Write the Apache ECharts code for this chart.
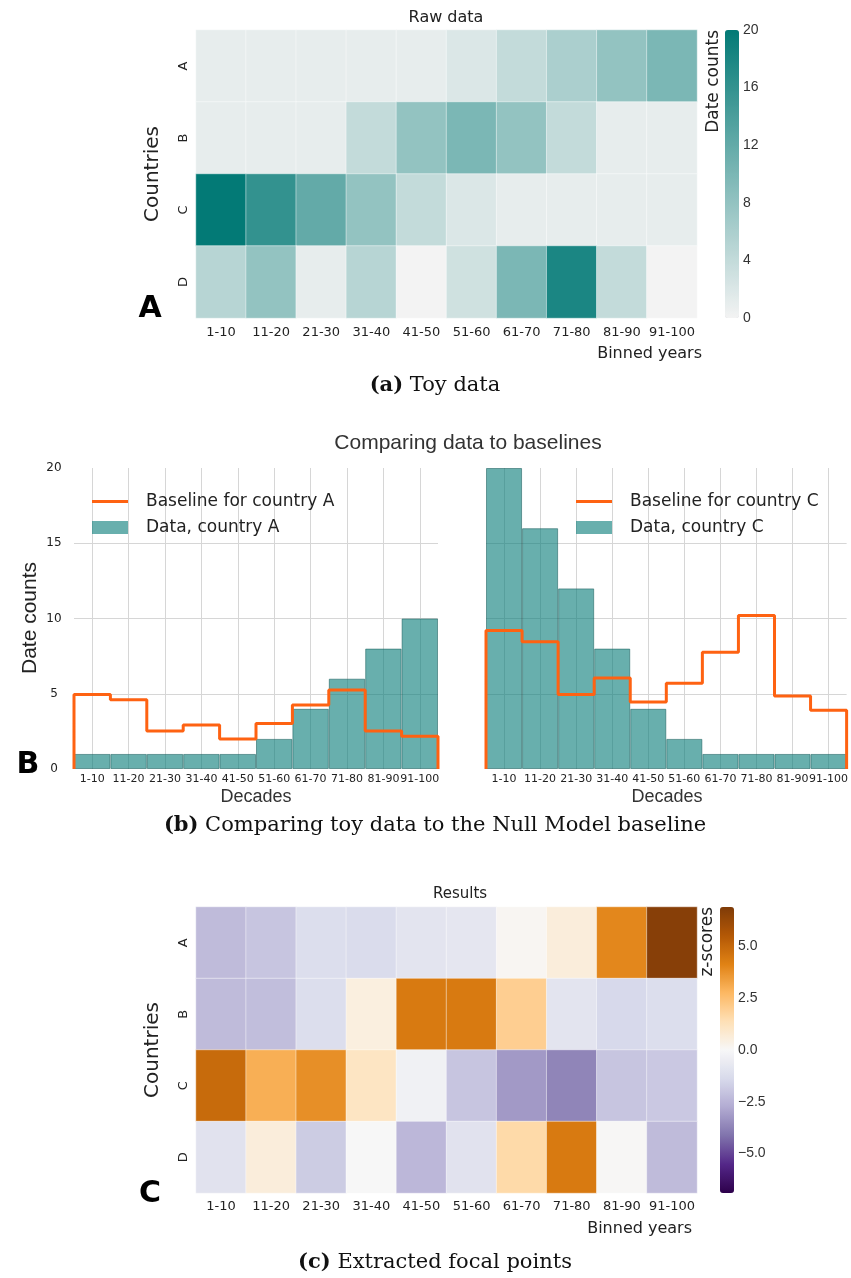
<!DOCTYPE html>
<html><head><meta charset="utf-8">
<script src="https://cdn.jsdelivr.net/npm/echarts@6/dist/echarts.min.js"></script>
<style>html,body{margin:0;padding:0;background:#fff}#c{width:851px;height:1278px}</style>
</head><body><div id="c"></div>
<script>
// ---------- data ----------
const bins = ['1-10','11-20','21-30','31-40','41-50','51-60','61-70','71-80','81-90','91-100'];
const countries = ['A','B','C','D'];
// raw date counts per country
const rawA = [1,1,1,1,1,2,4,6,8,10];
const rawB = [1,1,1,4,8,10,8,4,1,1];
const rawC = [20,16,12,8,4,2,1,1,1,1];
const rawD = [5,8,1,5,0,3,10,18,4,0];
// null-model baselines
const baselineA = [4.95,4.6,2.52,2.92,2.0,3.03,4.25,5.25,2.52,2.17];
const baselineC = [9.2,8.45,4.95,6.05,4.45,5.7,7.75,10.2,4.85,3.9];
// z-scores
const zA = [-2.3,-2.0,-1.2,-1.3,-0.9,-0.8,0.1,0.6,4.0,6.7];
const zB = [-2.3,-2.2,-1.2,0.5,4.4,4.4,2.0,-0.9,-1.4,-1.2];
const zC = [4.9,3.0,3.8,1.1,-0.3,-2.0,-3.2,-3.7,-2.0,-1.9];
const zD = [-1.0,0.6,-1.8,0.0,-2.4,-1.0,1.6,4.4,0.05,-2.3];
// tick labels
const countTicks = [0,4,8,12,16,20];
const zTicks = [-5,-2.5,0,2.5,5];
const decadeTicks = [0,5,10,15,20];

// ---------- helpers ----------
function cells(rows){const out=[];rows.forEach((r,yi)=>r.forEach((v,xi)=>out.push([xi,yi,v])));return out;}
function stepPts(vals){const p=[[0,0]];vals.forEach((v,i)=>{p.push([i,v]);p.push([i+1,v]);});p.push([vals.length,0]);return p;}

const DV='DejaVu Sans', LS='Liberation Sans', SERIF='DejaVu Serif';
const TXT='#222';
const GRIDC='#d6d6d6';
const TEAL_BAR='rgba(3,122,118,0.6)';
const ORANGE='#fe6212';
const PuOr_r=['#2d004b','#542788','#8073ac','#b2abd2','#d8daeb','#f7f7f7','#fee0b6','#fdb863','#e08214','#b35806','#7f3b08'];
const LINE_ICON='path://M0,0L36,0L36,3L0,3Z';

function heatX(gi, margin){return {type:'category',gridIndex:gi,data:bins,axisLine:{show:false},axisTick:{show:false},splitLine:{show:false},
  axisLabel:{interval:0,margin:margin,fontFamily:DV,fontSize:13,color:TXT}};}
function heatY(gi){return {type:'category',gridIndex:gi,data:countries,inverse:true,axisLine:{show:false},axisTick:{show:false},splitLine:{show:false},
  axisLabel:{rotate:90,margin:6,fontFamily:DV,fontSize:13,color:TXT}};}
function barX(gi){return {type:'category',gridIndex:gi,data:bins,axisLine:{show:false},axisTick:{show:false},
  splitLine:{show:true,alignWithLabel:true,lineStyle:{color:GRIDC,width:1}},
  axisLabel:{margin:5,fontFamily:DV,fontSize:11,color:TXT,interval:0}};}
function lineX(gi){return {type:'value',gridIndex:gi,min:0,max:bins.length,show:false,splitLine:{show:false}};}
function barY(gi,labels){return {type:'value',gridIndex:gi,min:decadeTicks[0],max:decadeTicks[decadeTicks.length-1],interval:5,
  axisLine:{show:false},axisTick:{show:false},
  splitLine:{show:true,showMinLine:false,showMaxLine:false,lineStyle:{color:GRIDC,width:1}},
  axisLabel:{show:labels,align:'center',margin:20,fontFamily:DV,fontSize:12,color:TXT}};}

function txt(x,y,text,opt){opt=opt||{};return {type:'text',x:x,y:y,rotation:opt.rot||0,z:100,
  style:{text:text,textAlign:opt.align||'center',textVerticalAlign:'middle',fontFamily:opt.font||DV,fontSize:opt.size||16,
  fontWeight:opt.weight||'normal',fill:opt.color||TXT,rich:opt.rich}};}
function caption(y,label,rest){return txt(435,y,'{b|'+label+'} '+rest,{font:SERIF,size:21,color:'#111',
  rich:{b:{fontWeight:'bold',fontFamily:SERIF,fontSize:21,fill:'#111'}}});}
function legendOf(country,left){return {data:[
    {name:'Baseline for country '+country,icon:LINE_ICON},
    {name:'Data, country '+country,icon:'rect',itemStyle:{borderWidth:0}}],
  left:left,top:493,orient:'vertical',padding:0,symbolKeepAspect:true,
  itemWidth:36,itemHeight:13,itemGap:9,textStyle:{fontFamily:DV,fontSize:17,color:TXT,padding:[0,0,0,13]}};}

const chart=echarts.init(document.getElementById('c'),null,{renderer:'canvas'});
chart.setOption({
  animation:false,
  backgroundColor:'#fff',
  grid:[
    {left:196,top:30,width:501,height:288},
    {left:725,top:30,width:14,height:288},
    {left:74,top:468,width:364,height:301},
    {left:486,top:468,width:362,height:301},
    {left:196,top:907,width:501,height:286},
    {left:720,top:907,width:14,height:286}
  ],
  xAxis:[
    heatX(0,8),
    {type:'value',gridIndex:1,min:0,max:1,show:false},
    barX(2), lineX(2),
    barX(3), lineX(3),
    heatX(4,7),
    {type:'value',gridIndex:5,min:0,max:1,show:false}
  ],
  yAxis:[
    heatY(0),
    {type:'value',gridIndex:1,position:'right',min:countTicks[0],max:countTicks[countTicks.length-1],interval:4,
      axisLine:{show:false},axisTick:{show:false},splitLine:{show:false},
      axisLabel:{margin:4,fontFamily:LS,fontSize:14,color:'#333'}},
    barY(2,true), barY(3,false),
    heatY(4),
    {type:'value',gridIndex:5,position:'right',min:-6.9,max:6.9,
      axisLine:{show:false},axisTick:{show:false},splitLine:{show:false},
      axisLabel:{margin:4,fontFamily:LS,fontSize:14,color:'#333',customValues:zTicks,
        formatter:v=>(v<0?'\u2212':'')+Math.abs(v).toFixed(1)}}
  ],
  visualMap:[
    {type:'continuous',seriesIndex:0,min:0,max:20,calculable:false,show:true,orient:'vertical',
      left:725,top:30,itemWidth:14,itemHeight:288,padding:0,text:null,
      inRange:{color:['#f3f3f3','#037a76']}},
    {type:'continuous',seriesIndex:5,min:-6.9,max:6.9,calculable:false,show:true,orient:'vertical',
      left:720,top:907,itemWidth:14,itemHeight:286,padding:0,text:null,
      inRange:{color:PuOr_r}}
  ],
  legend:[legendOf('A',92), legendOf('C',576)],
  series:[
    {type:'heatmap',xAxisIndex:0,yAxisIndex:0,data:cells([rawA,rawB,rawC,rawD]),
      itemStyle:{borderColor:'rgba(255,255,255,0.45)',borderWidth:1},emphasis:{disabled:true}},
    {type:'bar',name:'Data, country A',xAxisIndex:2,yAxisIndex:2,data:rawA,barCategoryGap:0,
      itemStyle:{color:TEAL_BAR,borderColor:'rgba(25,95,93,0.55)',borderWidth:1}},
    {type:'line',name:'Baseline for country A',xAxisIndex:3,yAxisIndex:2,data:stepPts(baselineA),
      symbol:'none',showSymbol:false,lineStyle:{color:ORANGE,width:3},itemStyle:{color:ORANGE},z:5},
    {type:'bar',name:'Data, country C',xAxisIndex:4,yAxisIndex:3,data:rawC,barCategoryGap:0,
      itemStyle:{color:TEAL_BAR,borderColor:'rgba(25,95,93,0.55)',borderWidth:1}},
    {type:'line',name:'Baseline for country C',xAxisIndex:5,yAxisIndex:3,data:stepPts(baselineC),
      symbol:'none',showSymbol:false,lineStyle:{color:ORANGE,width:3},itemStyle:{color:ORANGE},z:5},
    {type:'heatmap',xAxisIndex:6,yAxisIndex:4,data:cells([zA,zB,zC,zD]),
      itemStyle:{borderColor:'rgba(255,255,255,0.45)',borderWidth:1},emphasis:{disabled:true}}
  ],
  graphic:[
    txt(446,18,'Raw data',{size:16}),
    txt(153,174,'Countries',{size:20,rot:Math.PI/2}),
    txt(702,354,'Binned years',{size:16,align:'right'}),
    txt(714,30,'Date counts',{size:17,rot:Math.PI/2,align:'right'}),
    txt(150,309,'A',{size:30,weight:'bold',color:'#000'}),
    caption(386,'(a)','Toy data'),
    txt(468,443,'Comparing data to baselines',{font:LS,size:21,color:'#333'}),
    txt(30,618,'Date counts',{font:LS,size:21,rot:Math.PI/2}),
    txt(256,797,'Decades',{font:LS,size:18,color:'#333'}),
    txt(667,797,'Decades',{font:LS,size:18,color:'#333'}),
    txt(28,765,'B',{size:30,weight:'bold',color:'#000'}),
    caption(826,'(b)','Comparing toy data to the Null Model baseline'),
    txt(460,894,'Results',{size:15}),
    txt(153,1050,'Countries',{size:20,rot:Math.PI/2}),
    txt(708,907,'z-scores',{size:17,rot:Math.PI/2,align:'right'}),
    txt(692,1229,'Binned years',{size:16,align:'right'}),
    txt(150,1194,'C',{size:30,weight:'bold',color:'#000'}),
    caption(1263,'(c)','Extracted focal points')
  ]
});
</script></body></html>
